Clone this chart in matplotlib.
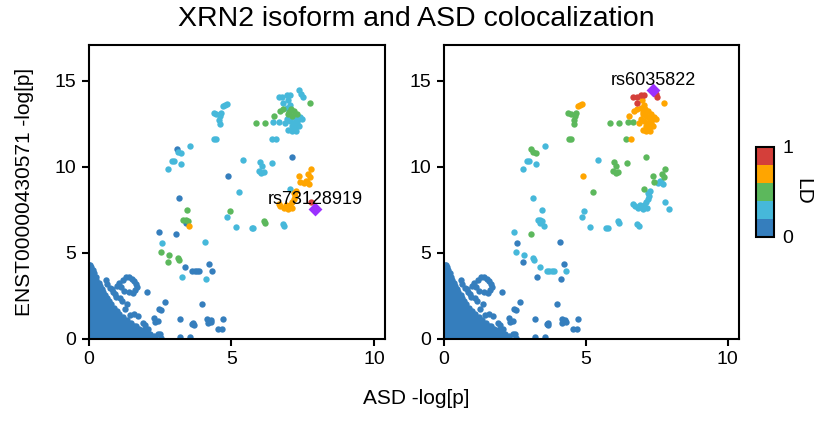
import numpy as np
import matplotlib
matplotlib.use("Agg")
import matplotlib.pyplot as plt
from matplotlib.colors import ListedColormap, BoundaryNorm
import matplotlib.colorbar as mcolorbar

plt.rcParams['font.family'] = ['Liberation Sans', 'DejaVu Sans']

# LD bins: 0 blue, 1 light blue, 2 green, 3 orange, 4 red, 5 lead SNP
ld_colors = ['#357EBD', '#46B8DA', '#5CB85C', '#FFA500', '#D43F3A']
lead_color = '#9B30FF'

lead_names = ['rs73128919', 'rs6035822']

# SNPs above the background cloud: ASD -log10 p, isoform -log10 p,
# LD bin against the left lead, LD bin against the right lead
snp_x = [7.38, 7.46, 7.51, 6.68, 6.79, 6.94, 7.06, 6.82, 6.97, 7.06,
         7.77, 6.51, 6.70, 6.82, 6.94, 7.08, 7.18, 7.00, 7.12, 7.03,
         7.24, 7.36, 7.41, 7.47, 7.30, 6.94, 7.06, 7.18, 7.30, 6.88,
         7.12, 7.24, 7.36, 7.00, 7.12, 7.27, 6.58, 6.41, 5.87, 6.17,
         6.47, 6.68,
         4.71, 4.78, 4.86, 4.39, 4.47, 4.64, 4.62, 4.57, 4.60, 4.40, 4.48,
         3.08, 3.14, 3.24, 3.55, 2.93, 3.00, 2.78, 3.24, 5.42, 5.99,
         6.08, 5.96, 6.05, 6.15, 6.44, 7.12, 4.89, 5.27, 3.15, 3.46,
         3.32, 3.40, 3.47, 3.40, 3.53, 2.47, 3.06, 2.58, 4.08, 2.55,
         2.82, 2.77, 3.13, 3.17, 3.39, 3.64, 3.72, 3.80, 3.87, 3.27,
         4.23, 4.31, 4.11, 4.86, 4.94, 5.15, 5.71, 5.77, 6.13, 6.17,
         7.79, 7.70, 7.38, 7.76, 7.41, 7.56, 7.66, 7.72, 7.62, 7.05,
         7.25, 7.20, 7.22, 7.20, 7.12, 7.06, 6.96, 6.84, 6.72, 6.66,
         7.00, 7.14, 6.90, 7.80, 7.94, 6.82, 6.86]
snp_y = [14.48, 14.25, 14.08, 14.07, 14.05, 14.19, 14.16, 13.72, 13.92, 13.60,
         13.70, 12.96, 13.26, 13.35, 13.45, 13.35, 13.26, 13.06, 12.97, 13.20,
         12.87, 12.81, 12.93, 12.77, 13.06, 12.77, 12.67, 12.58, 12.58, 12.58,
         12.39, 12.29, 12.39, 12.15, 12.07, 12.09, 11.65, 11.65, 12.55, 12.55,
         12.60, 12.60,
         13.55, 13.60, 13.66, 13.12, 13.08, 13.16, 12.96, 12.71, 12.52, 11.63, 11.63,
         11.05, 10.85, 10.78, 11.22, 10.35, 10.35, 9.88, 10.18, 10.43, 10.31,
         10.06, 9.77, 9.63, 9.71, 10.22, 10.60, 9.47, 8.54, 8.18, 7.51,
         6.89, 6.93, 6.88, 6.75, 6.55, 6.21, 6.08, 5.60, 5.62, 5.03,
         4.85, 4.47, 4.71, 4.58, 4.16, 3.95, 3.92, 3.93, 3.92, 3.62,
         4.38, 3.93, 3.50, 7.08, 7.44, 6.48, 6.45, 6.45, 6.85, 6.72,
         9.88, 9.58, 9.45, 9.40, 9.12, 9.05, 9.10, 8.98, 9.20, 8.72,
         8.62, 8.48, 8.32, 8.16, 7.97, 7.80, 7.66, 7.60, 7.70, 7.83,
         7.56, 7.62, 7.80, 7.95, 7.56, 6.70, 6.54]
ld_left = [1, 1, 1, 1, 1, 1, 1, 1, 1, 1,
           2, 2, 2, 2, 1, 2, 2, 2, 2, 2,
           1, 1, 1, 1, 2, 1, 1, 1, 1, 1,
           1, 1, 1, 1, 1, 1, 1, 1, 2, 2,
           1, 1,
           1, 1, 1, 1, 1, 1, 1, 1, 1, 1, 1,
           0, 1, 1, 1, 1, 1, 1, 1, 1, 1,
           1, 1, 1, 1, 1, 0, 0, 1, 0, 2,
           2, 2, 2, 0, 3, 0, 0, 1, 1, 2,
           2, 2, 2, 2, 0, 0, 0, 0, 0, 1,
           0, 0, 1, 1, 2, 1, 1, 1, 2, 2,
           3, 3, 3, 3, 3, 3, 3, 3, 3, 1,
           3, 3, 3, 3, 3, 3, 3, 3, 3, 3,
           3, 3, 3, 4, 5, 1, 1]
ld_right = [5, 4, 4, 4, 4, 4, 4, 4, 3, 3,
            3, 3, 3, 3, 3, 3, 3, 3, 3, 3,
            3, 3, 3, 3, 3, 3, 3, 3, 3, 3,
            3, 3, 3, 3, 3, 3, 3, 2, 2, 2,
            2, 2,
            3, 3, 3, 2, 2, 2, 2, 2, 2, 2, 2,
            2, 2, 2, 1, 1, 1, 1, 1, 1, 2,
            2, 2, 2, 2, 2, 2, 3, 2, 1, 1,
            1, 1, 1, 1, 1, 1, 2, 0, 0, 1,
            1, 0, 1, 1, 1, 1, 1, 1, 1, 0,
            0, 1, 0, 1, 1, 1, 1, 1, 1, 1,
            2, 2, 2, 2, 2, 1, 1, 1, 1, 2,
            1, 1, 1, 1, 1, 1, 1, 1, 1, 1,
            1, 1, 1, 1, 1, 1, 1]

# scattered low-LD SNPs around the background cloud
low_x = [3.99, 2.69, 2.46, 2.55, 2.29, 2.43, 2.43, 2.49, 3.20, 3.20,
         3.56, 3.62, 3.68, 3.66, 4.15, 4.22, 4.28, 4.30, 4.17, 4.54,
         4.69, 4.72, 2.05, 1.36, 1.07, 1.13, 1.20, 1.30, 1.40, 1.51,
         1.60, 1.66, 1.70, 1.62, 1.54, 1.40, 1.25, 0.83, 0.74, 0.85,
         0.97, 1.09, 1.00, 0.92, 1.44, 1.60, 1.72, 1.90, 1.96, 2.08,
         2.32, 1.90, 2.02, 2.14, 2.30, 2.55, 0.65, 1.26, 1.18, 0.60]
low_y = [2.00, 2.17, 1.72, 1.67, 1.24, 1.05, 0.27, 0.27, 1.14, 0.08,
         0.12, 0.85, 0.78, 0.92, 1.14, 1.02, 1.12, 0.95, 0.90, 0.56,
         0.56, 1.18, 2.75, 2.02, 3.27, 3.02, 3.45, 3.57, 3.62, 3.50,
         3.35, 3.18, 3.00, 2.82, 2.69, 2.75, 2.79, 2.90, 2.94, 2.75,
         2.46, 2.37, 3.10, 2.62, 1.36, 1.44, 1.32, 0.93, 0.80, 0.58,
         0.97, 0.52, 0.45, 0.27, 0.15, 0.05, 3.18, 1.75, 2.20, 3.40]

# dense background cloud near the origin, one row per -log10 p level
cloud_rows_y = [0.04, 0.20, 0.38, 0.56, 0.74, 0.92, 1.10, 1.28, 1.46, 1.64,
                1.82, 2.00, 2.18, 2.36, 2.54, 2.72, 2.90, 3.08, 3.26, 3.44,
                3.62, 3.80, 3.98, 4.16, 4.32]
cloud_rows_x = [
    [0.03, 0.15, 0.27, 0.39, 0.51, 0.63, 0.75, 0.87, 0.99, 1.11, 1.23, 1.35, 1.47, 1.59, 1.71, 1.83, 1.95, 2.07, 2.19, 2.31],
    [0.03, 0.15, 0.27, 0.39, 0.51, 0.63, 0.75, 0.87, 0.99, 1.11, 1.23, 1.35, 1.47, 1.59, 1.71, 1.83, 1.95, 2.06],
    [0.03, 0.15, 0.27, 0.39, 0.51, 0.63, 0.75, 0.87, 0.99, 1.11, 1.23, 1.35, 1.47, 1.59, 1.71, 1.83, 1.92],
    [0.03, 0.15, 0.27, 0.39, 0.51, 0.63, 0.75, 0.87, 0.99, 1.11, 1.23, 1.35, 1.47, 1.59, 1.71, 1.78],
    [0.03, 0.15, 0.27, 0.39, 0.51, 0.63, 0.75, 0.87, 0.99, 1.11, 1.23, 1.35, 1.47, 1.59, 1.65],
    [0.03, 0.15, 0.27, 0.39, 0.51, 0.63, 0.75, 0.87, 0.99, 1.11, 1.23, 1.35, 1.47],
    [0.03, 0.15, 0.27, 0.39, 0.51, 0.63, 0.75, 0.87, 0.99, 1.11, 1.23, 1.35],
    [0.03, 0.15, 0.27, 0.39, 0.51, 0.63, 0.75, 0.87, 0.99, 1.11, 1.22],
    [0.03, 0.15, 0.27, 0.39, 0.51, 0.63, 0.75, 0.87, 0.99, 1.08],
    [0.03, 0.15, 0.27, 0.39, 0.51, 0.63, 0.75, 0.87, 0.98],
    [0.03, 0.15, 0.27, 0.39, 0.51, 0.63, 0.75, 0.88],
    [0.03, 0.15, 0.27, 0.39, 0.51, 0.63, 0.78],
    [0.03, 0.15, 0.27, 0.39, 0.51, 0.63, 0.71],
    [0.03, 0.15, 0.27, 0.39, 0.51, 0.65],
    [0.03, 0.15, 0.27, 0.39, 0.51, 0.59],
    [0.03, 0.15, 0.27, 0.39, 0.51],
    [0.03, 0.15, 0.27, 0.39, 0.46],
    [0.03, 0.15, 0.27, 0.39],
    [0.03, 0.15, 0.27, 0.35],
    [0.03, 0.15, 0.27],
    [0.03, 0.15, 0.25],
    [0.03, 0.13, 0.20],
    [0.03, 0.10, 0.16],
    [0.03, 0.10],
    [0.03, 0.06],
]

cloud_x = [x for xs in cloud_rows_x for x in xs]
cloud_y = [y for y, xs in zip(cloud_rows_y, cloud_rows_x) for _ in xs]

fig = plt.figure(figsize=(8.36, 4.23), dpi=100)
ax_l = fig.add_axes([0.106, 0.199, 0.355, 0.695])
ax_r = fig.add_axes([0.531, 0.199, 0.353, 0.695])


def draw_panel(ax, ld, lead_name):
    bg_x = np.array(cloud_x + low_x)
    bg_y = np.array(cloud_y + low_y)
    ax.scatter(bg_x, bg_y, s=21, c=ld_colors[0], linewidths=0, zorder=2)

    xs = np.array(snp_x)
    ys = np.array(snp_y)
    ld = np.array(ld)
    order = np.argsort(ld, kind='stable')
    for i in order:
        if ld[i] == 5:
            continue
        ax.scatter(xs[i], ys[i], s=21, c=ld_colors[ld[i]], linewidths=0, zorder=3)

    k = int(np.where(ld == 5)[0][0])
    ax.scatter(xs[k], ys[k], s=50, marker='D', c=lead_color, linewidths=0, zorder=4)
    ax.annotate(lead_name, (xs[k], ys[k]), xytext=(0, 7), textcoords='offset points',
                ha='center', va='center', fontsize=13, zorder=5)

    ax.set_xlim(0, 10.4)
    ax.set_ylim(0, 17.1)
    ax.set_xticks([0, 5, 10])
    ax.set_yticks([0, 5, 10, 15])
    ax.tick_params(direction='out', length=5, width=1.5, labelsize=14, pad=4)
    for sp in ax.spines.values():
        sp.set_linewidth(1.5)


draw_panel(ax_l, ld_left, lead_names[0])
draw_panel(ax_r, ld_right, lead_names[1])

ax_l.set_ylabel('ENST00000430571 -log[p]', fontsize=15)
ax_l.yaxis.set_label_coords(-0.185, 0.5)
fig.text(0.498, 0.058, 'ASD -log[p]', ha='center', va='center', fontsize=15)
fig.suptitle('XRN2 isoform and ASD colocalization', x=0.498, y=0.955, fontsize=20.5, va='center')

# discrete LD colour bar
cax = fig.add_axes([0.904, 0.44, 0.0215, 0.213])
cmap = ListedColormap(ld_colors)
norm = BoundaryNorm([0, 0.2, 0.4, 0.6, 0.8, 1.0], cmap.N)
cb = mcolorbar.ColorbarBase(cax, cmap=cmap, norm=norm, ticks=[0, 1])
cb.outline.set_linewidth(1.5)
cax.minorticks_off()
cax.tick_params(which='both', length=0, labelsize=14, pad=6)
cb.set_label('LD', rotation=270, fontsize=15, labelpad=14)

fig.savefig('out.png', dpi=100)
